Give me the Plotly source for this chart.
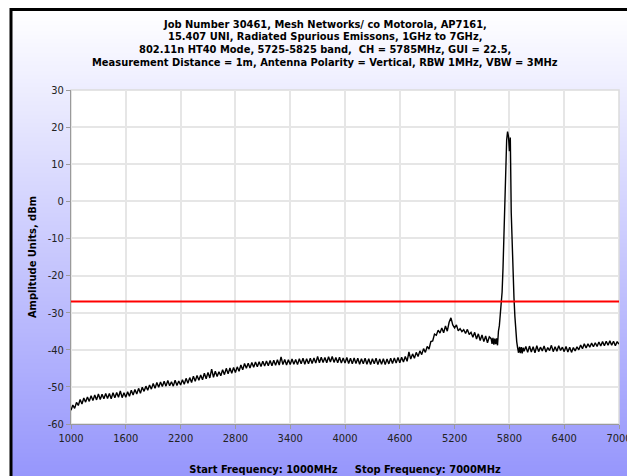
import plotly.graph_objects as go

# ---------------- data ----------------
freq_seg1 = list(range(1000, 5600, 20))
amp_seg1 = [
    -56.3, -54.9, -55.8, -54.2, -55.0, -53.4, -54.6, -53.0, -54.1, -52.7,
    -53.9, -52.4, -53.7, -52.2, -53.5, -51.9, -53.4, -52.0, -53.2, -51.8,
    -53.1, -51.8, -53.2, -51.6, -52.9, -51.5, -52.8, -51.1, -52.9, -51.6,
    -52.8, -51.3, -52.5, -50.9, -52.2, -50.7, -51.9, -50.4, -51.7, -50.1,
    -51.2, -49.8, -50.9, -49.5, -50.6, -49.1, -50.4, -48.8, -50.1, -48.7,
    -49.9, -48.5, -49.8, -48.3, -49.7, -48.6, -49.8, -48.2, -49.6, -48.4,
    -49.5, -48.1, -49.3, -47.7, -49.0, -47.5, -48.8, -47.1, -48.5, -46.9,
    -48.2, -46.8, -48.1, -46.3, -47.8, -46.1, -47.6, -45.2, -47.4, -45.8,
    -47.2, -45.9, -47.0, -45.4, -46.7, -45.0, -46.5, -44.9, -46.3, -44.8,
    -46.1, -44.6, -45.8, -44.1, -45.4, -43.7, -45.0, -43.6, -44.9, -43.4,
    -44.7, -43.3, -44.6, -43.2, -44.5, -43.1, -44.4, -43.0, -44.3, -42.9,
    -44.3, -42.8, -44.2, -42.7, -44.1, -41.9, -44.0, -42.6, -44.1, -42.7,
    -44.0, -42.5, -43.9, -42.6, -44.0, -42.4, -43.8, -42.3, -43.9, -42.4,
    -43.8, -42.3, -43.7, -42.2, -43.6, -41.8, -43.5, -42.0, -43.4, -42.1,
    -43.5, -41.9, -43.3, -41.8, -43.4, -42.1, -43.5, -42.0, -43.6, -42.2,
    -43.6, -42.1, -43.7, -42.3, -43.8, -42.2, -43.7, -42.3, -43.9, -42.4,
    -43.8, -42.3, -43.9, -42.4, -44.0, -42.4, -43.8, -42.3, -44.0, -42.5,
    -43.9, -42.4, -44.0, -42.5, -43.8, -42.3, -43.7, -42.2, -43.6, -42.1,
    -43.5, -42.0, -43.3, -41.8, -43.1, -40.6, -42.5, -41.1, -42.3, -40.7,
    -41.8, -40.3, -41.3, -39.7, -40.7, -39.1, -39.8, -37.8, -37.6, -35.8,
    -36.1, -34.7, -35.5, -34.1, -35.4, -33.6, -35.0, -32.6, -31.4, -33.3,
    -34.1, -33.3, -34.9, -34.3, -35.1, -34.6, -35.6, -34.5, -35.9, -35.3,
    -36.6, -35.3, -37.1, -35.7, -37.5, -36.0, -37.8, -36.3, -38.1, -36.5,
]
freq_seg2 = list(range(5600, 5960, 10))
amp_seg2 = [
    -37.0, -38.4, -36.8, -38.6, -37.0, -38.5, -36.9, -38.8, -35.0, -33.5,
    -30.5, -28.0, -24.5, -18.0, -9.0, 1.0, 9.5, 16.5, 18.8, 17.5,
    13.5, 17.2, -3.0, -13.0, -21.0, -26.0, -31.0, -35.0, -37.8, -39.5,
    -40.8, -39.2, -40.9, -39.3, -41.0, -39.4,
]
freq_seg3 = list(range(5960, 7001, 20))
amp_seg3 = [
    -40.4, -39.1, -40.7, -39.0, -40.6, -39.2, -40.8, -38.9, -40.5, -39.3,
    -40.3, -39.0, -40.6, -39.4, -40.2, -38.8, -40.5, -39.2, -40.4, -38.9,
    -40.2, -39.3, -40.5, -39.1, -40.6, -39.3, -40.7, -39.4, -40.3, -39.2,
    -40.0, -38.7, -39.7, -38.4, -39.5, -38.4, -39.3, -38.2, -39.2, -38.1,
    -39.1, -37.9, -39.0, -37.8, -38.9, -37.7, -38.8, -37.6, -38.8, -37.7,
    -38.9, -37.8, -38.5,
]
frequency_mhz = freq_seg1 + freq_seg2 + freq_seg3
amplitude_dbm = amp_seg1 + amp_seg2 + amp_seg3

limit_dbm = -27
x_ticks = [1000, 1600, 2200, 2800, 3400, 4000, 4600, 5200, 5800, 6400, 7000]
y_ticks = [-60, -50, -40, -30, -20, -10, 0, 10, 20, 30]

title_lines = [
    "Job Number 30461, Mesh Networks/ co Motorola, AP7161,",
    "15.407 UNI, Radiated Spurious Emissons, 1GHz to 7GHz,",
    "802.11n HT40 Mode, 5725-5825 band,  CH = 5785MHz, GUI = 22.5,",
    "Measurement Distance = 1m, Antenna Polarity = Vertical, RBW 1MHz, VBW = 3MHz",
]
x_title = "Start Frequency: 1000MHz\u00a0\u00a0\u00a0\u00a0\u00a0Stop Frequency: 7000MHz"
y_title = "Amplitude Units, dBm"

# ---------------- layout geometry ----------------
W, H = 627, 476
L, R, T, B = 71, 8, 90, 52
PW, PH = W - L - R, H - T - B


def px_x(p):
    return (p - L) / PW


def px_y(p):
    return (H - B - p) / PH


FONT = "DejaVu Sans Condensed, DejaVu Sans, sans-serif"

shapes = []
# vertical gradient background inside the frame
band = 2
top_c = (255, 255, 255)
bot_c = (150, 150, 252)
y0 = 9
for py in range(y0, H + 2, band):
    f = min(1.0, max(0.0, (py - y0) / (H - y0)))
    c = tuple(round(top_c[i] + (bot_c[i] - top_c[i]) * f) for i in range(3))
    shapes.append(dict(type="rect", xref="paper", yref="paper", layer="below",
                       x0=px_x(10), x1=px_x(W + 5), y0=px_y(py), y1=px_y(py + band + 0.5),
                       line=dict(width=0), fillcolor="rgb(%d,%d,%d)" % c))
# plot area (white with light border)
shapes.append(dict(type="rect", xref="paper", yref="paper", layer="below",
                   x0=0, x1=1, y0=0, y1=1, fillcolor="white",
                   line=dict(color="#dcdcdc", width=1.5)))
# outer black frame (right/bottom beyond the picture)
shapes.append(dict(type="rect", xref="paper", yref="paper", layer="above",
                   x0=px_x(11), x1=px_x(W + 20), y0=px_y(9.5), y1=px_y(H + 20),
                   line=dict(color="black", width=3), fillcolor="rgba(0,0,0,0)"))

annotations = []
for i, line in enumerate(title_lines):
    annotations.append(dict(text=line, xref="paper", yref="paper",
                            x=px_x(325), y=px_y(24 + 13 * i), xanchor="center", yanchor="middle",
                            showarrow=False,
                            font=dict(family=FONT, size=11, color="black", weight="bold")))

fig = go.Figure()
fig.add_trace(go.Scatter(x=frequency_mhz, y=amplitude_dbm, mode="lines",
                         line=dict(color="black", width=1.4), showlegend=False,
                         hoverinfo="skip"))
fig.add_trace(go.Scatter(x=[x_ticks[0], x_ticks[-1]], y=[limit_dbm, limit_dbm], mode="lines",
                         line=dict(color="#ff0000", width=2), showlegend=False,
                         hoverinfo="skip"))

fig.update_layout(
    width=W, height=H,
    margin=dict(l=L, r=R, t=T, b=B, pad=0, autoexpand=False),
    paper_bgcolor="white",
    plot_bgcolor="white",
    shapes=shapes,
    annotations=annotations,
    xaxis=dict(range=[1000, 7000], tickvals=x_ticks, ticktext=[str(v) for v in x_ticks],
               automargin=False,
               showgrid=True, gridcolor="#e6e6e6", gridwidth=1.5,
               showline=True, linecolor="#9a9a9a", linewidth=1,
               ticks="outside", ticklen=4, tickcolor="#9a9a9a",
               tickfont=dict(family=FONT, size=11, color="#222222"),
               ticklabeloverflow="allow",
               zeroline=False,
               title=dict(text=x_title, standoff=24,
                          font=dict(family=FONT, size=11, color="black", weight="bold"))),
    yaxis=dict(range=[-60, 30], tickvals=y_ticks, ticktext=[str(v) for v in y_ticks],
               automargin=False,
               showgrid=True, gridcolor="#e6e6e6", gridwidth=1.5,
               showline=True, linecolor="#9a9a9a", linewidth=1,
               ticks="outside", ticklen=4, tickcolor="#9a9a9a",
               tickfont=dict(family=FONT, size=11, color="#222222"),
               zeroline=False,
               title=dict(text=y_title, standoff=8,
                          font=dict(family=FONT, size=11, color="black", weight="bold"))),
)

fig.write_html(
    "out.html", config={"displayModeBar": False},
    post_script=(
        "document.body.style.margin='0px';"
        "document.body.style.overflow='hidden';"
        "document.documentElement.style.overflow='hidden';"
    ),
)
